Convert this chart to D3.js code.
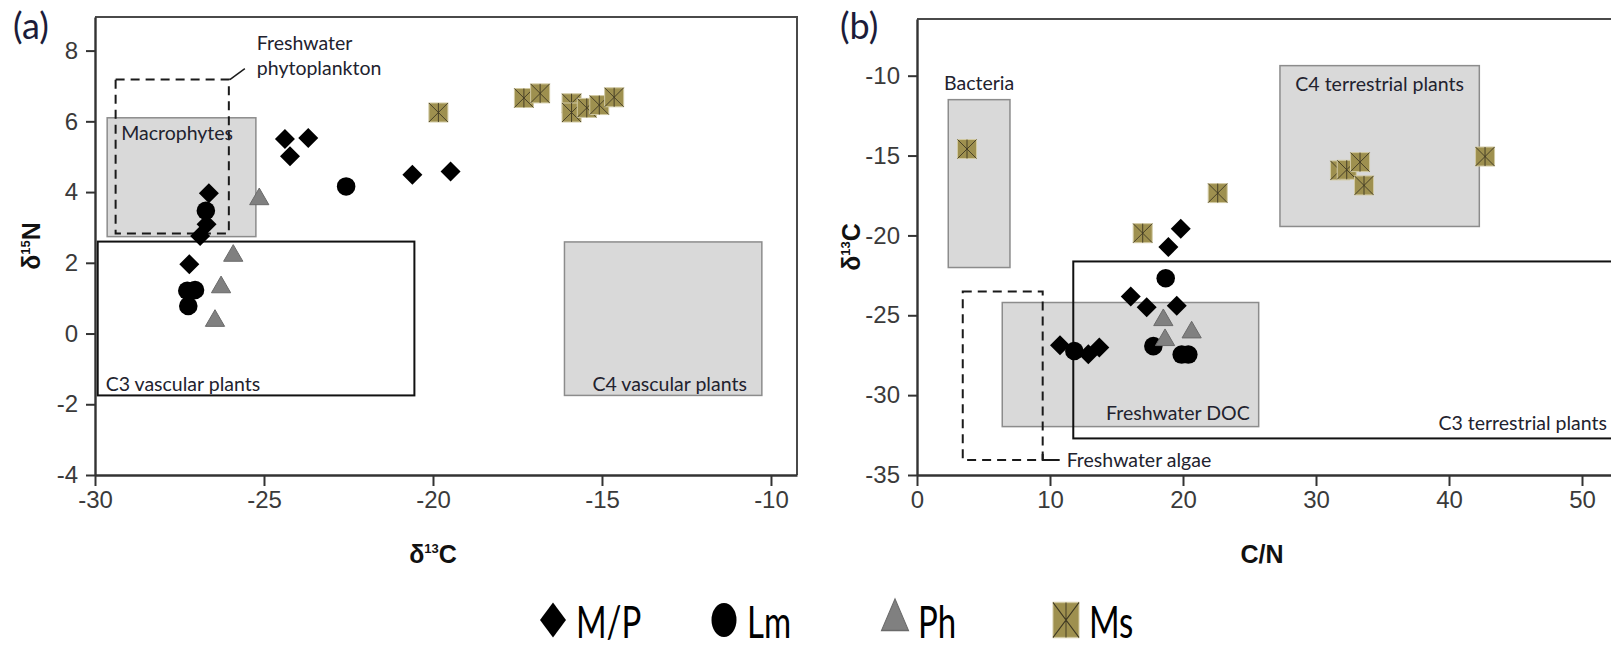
<!DOCTYPE html>
<html>
<head>
<meta charset="utf-8">
<script src="https://cdn.jsdelivr.net/npm/d3@7"></script>
<style>
  body { margin: 0; background: #fff; }
  svg { display: block; }
</style>
</head>
<body>
<svg id="chart" width="1611" height="646"></svg>
<script>
// ---- data, panel (a): d13C (x) vs d15N (y) ----
const mpA = [[-24.38, 5.50], [-23.69, 5.53], [-24.23, 5.01], [-20.61, 4.49], [-19.48, 4.58],
             [-26.63, 3.97], [-26.70, 3.09], [-26.89, 2.76], [-27.21, 1.96]];
const lmA = [[-26.72, 3.47], [-22.57, 4.16], [-27.27, 1.21], [-27.04, 1.23], [-27.24, 0.78]];
const phA = [[-25.14, 3.80], [-25.91, 2.20], [-26.27, 1.31], [-26.45, 0.36]];
const msA = [[-19.84, 6.25], [-17.31, 6.66], [-16.83, 6.79], [-15.90, 6.51], [-15.90, 6.25],
             [-15.45, 6.38], [-15.08, 6.46], [-14.64, 6.68]];

// end-member ranges, panel (a)
const grayBoxesA = [
  { name: "Macrophytes", x: [-29.64, -25.24], y: [2.74, 6.10] },
  { name: "C4 vascular plants", x: [-16.11, -10.27], y: [-1.75, 2.59] },
];
const solidBoxesA = [{ name: "C3 vascular plants", x: [-29.92, -20.55], y: [-1.75, 2.60] }];
const dashedBoxesA = [{ name: "Freshwater|phytoplankton", x: [-29.39, -26.04], y: [2.83, 7.18] }];

// ---- data, panel (b): C/N (x) vs d13C (y) ----
const mpB = [[19.83, -19.59], [18.90, -20.73], [16.07, -23.83], [17.27, -24.49], [19.53, -24.41],
             [10.75, -26.88], [12.88, -27.44], [13.71, -27.02]];
const lmB = [[18.70, -22.68], [11.83, -27.24], [17.77, -26.93], [19.90, -27.46], [20.40, -27.46]];
const phB = [[18.52, -25.30], [18.65, -26.55], [20.65, -26.07]];
const msB = [[3.76, -14.59], [22.61, -17.35], [16.97, -19.86], [31.80, -15.93], [32.31, -15.89],
             [33.31, -15.41], [33.61, -16.87], [42.71, -15.06]];

const grayBoxesB = [
  { name: "Bacteria", x: [2.35, 6.99], y: [-22.01, -11.50] },
  { name: "C4 terrestrial plants", x: [27.29, 42.28], y: [-19.44, -9.37] },
  { name: "Freshwater DOC", x: [6.41, 25.69], y: [-31.97, -24.20] },
];
const solidBoxesB = [{ name: "C3 terrestrial plants", x: [11.75, 53.5], y: [-32.71, -21.63] }];
const dashedBoxesB = [{ name: "Freshwater algae", x: [3.44, 9.45], y: [-34.06, -23.51] }];

const xTicksA = [-30, -25, -20, -15, -10];
const yTicksA = [-4, -2, 0, 2, 4, 6, 8];
const xTicksB = [0, 10, 20, 30, 40, 50];
const yTicksB = [-35, -30, -25, -20, -15, -10];

const legendNames = ["M/P", "Lm", "Ph", "Ms"];

// ---- drawing ----
const svg = d3.select("#chart");
const TEXT = "#22222e";
const LABEL_FONT = "Lato, 'Open Sans', sans-serif";
const TICK_FONT = "'Liberation Sans Narrow', 'Liberation Sans', Arial, sans-serif";

const sym = {
  diamond: d3.symbol(d3.symbolSquare, 200)(),
  circle: d3.symbol(d3.symbolCircle, 270)(),
  triangle: d3.symbol(d3.symbolTriangle, 160)(),
};

function drawMs(sel, s) {
  sel.append("rect")
    .attr("x", -s).attr("y", -s).attr("width", 2 * s).attr("height", 2 * s)
    .attr("fill", "#9e904f").attr("stroke", "#d2caa4").attr("stroke-width", 1);
  sel.append("path")
    .attr("d", `M${-s},${-s}L${s},${s}M${s},${-s}L${-s},${s}M0,${-s}V${s}`)
    .attr("stroke", "#3e3822").attr("stroke-width", 0.9).attr("fill", "none");
}

function axisTitle(g, x, y, parts, rotate) {
  const t = g.append("text")
    .attr("transform", `translate(${x},${y})` + (rotate ? " rotate(-90)" : ""))
    .attr("text-anchor", "middle")
    .attr("font-family", TICK_FONT)
    .attr("font-weight", "bold")
    .attr("font-size", 25)
    .attr("fill", "#111");
  parts.forEach(([s, sup]) => {
    if (sup) t.append("tspan").text(s).attr("font-size", 13).attr("dy", -10);
    else t.append("tspan").text(s).attr("dy", t.selectAll("tspan").size() > 0 ? 10 : 0);
  });
}

function regionLabel(g, x, y, txt, anchor) {
  return g.append("text")
    .attr("x", x).attr("y", y)
    .attr("text-anchor", anchor)
    .attr("dominant-baseline", "central")
    .attr("font-family", LABEL_FONT)
    .attr("font-size", 19.5)
    .attr("fill", TEXT)
    .text(txt);
}

function panel(cfg) {
  const { x, y, xTicks, yTicks, right } = cfg;
  const g = svg.append("g");
  const [x0] = x.range();
  const [yb, yt] = y.range();

  // frame (top / right)
  g.append("path")
    .attr("d", `M${x0},${yt}H${right}V${yb}`)
    .attr("fill", "none").attr("stroke", "#4a4a4a").attr("stroke-width", 2);

  const regions = g.append("g");
  cfg.gray.forEach(b => {
    regions.append("rect")
      .attr("x", x(b.x[0])).attr("y", y(b.y[1]))
      .attr("width", x(b.x[1]) - x(b.x[0])).attr("height", y(b.y[0]) - y(b.y[1]))
      .attr("fill", "#d9d9d9").attr("stroke", "#8c8c8c").attr("stroke-width", 1.5);
  });
  cfg.dashed.forEach(b => {
    regions.append("rect")
      .attr("x", x(b.x[0])).attr("y", y(b.y[1]))
      .attr("width", x(b.x[1]) - x(b.x[0])).attr("height", y(b.y[0]) - y(b.y[1]))
      .attr("fill", "none").attr("stroke", "#1a1a1a").attr("stroke-width", 2)
      .attr("stroke-dasharray", "9,6");
  });
  cfg.solid.forEach(b => {
    regions.append("rect")
      .attr("x", x(b.x[0])).attr("y", y(b.y[1]))
      .attr("width", x(b.x[1]) - x(b.x[0])).attr("height", y(b.y[0]) - y(b.y[1]))
      .attr("fill", "none").attr("stroke", "#111").attr("stroke-width", 2);
  });

  // axes
  const fmt = d => String(d);
  const ax = g.append("g").attr("transform", `translate(0,${yb})`)
    .call(d3.axisBottom(x).tickValues(xTicks).tickFormat(fmt).tickSize(11).tickSizeOuter(0).tickPadding(5));
  const ay = g.append("g").attr("transform", `translate(${x0},0)`)
    .call(d3.axisLeft(y).tickValues(yTicks).tickFormat(fmt).tickSize(9).tickSizeOuter(0).tickPadding(8));
  [ax, ay].forEach(a => {
    a.select(".domain").attr("stroke", "#333").attr("stroke-width", 2.4);
    a.selectAll(".tick line").attr("stroke", "#333").attr("stroke-width", 2);
    a.selectAll(".tick text").attr("font-family", TICK_FONT).attr("font-size", 24).attr("fill", "#3a3a3a");
  });

  // points
  const pts = g.append("g");
  pts.selectAll(".mp").data(cfg.mp).join("path").attr("class", "mp")
    .attr("d", sym.diamond).attr("fill", "#000")
    .attr("transform", d => `translate(${x(d[0])},${y(d[1])}) rotate(45)`);
  pts.selectAll(".lm").data(cfg.lm).join("path").attr("class", "lm")
    .attr("d", sym.circle).attr("fill", "#000")
    .attr("transform", d => `translate(${x(d[0])},${y(d[1])})`);
  pts.selectAll(".ph").data(cfg.ph).join("path").attr("class", "ph")
    .attr("d", sym.triangle).attr("fill", "#808080").attr("stroke", "#6a6a6a").attr("stroke-width", 1)
    .attr("transform", d => `translate(${x(d[0])},${y(d[1])})`);
  pts.selectAll(".ms").data(cfg.ms).join("g").attr("class", "ms")
    .attr("transform", d => `translate(${x(d[0])},${y(d[1])})`)
    .each(function () { drawMs(d3.select(this), 9.5); });

  return g;
}

// panel (a)
const xA = d3.scaleLinear().domain([-30, -9.23]).range([95, 797]);
const yA = d3.scaleLinear().domain([-4, 8.95]).range([475, 17]);
const gA = panel({ x: xA, y: yA, xTicks: xTicksA, yTicks: yTicksA, right: 797,
  gray: grayBoxesA, dashed: dashedBoxesA, solid: solidBoxesA,
  mp: mpA, lm: lmA, ph: phA, ms: msA });

// panel (b)
const xB = d3.scaleLinear().domain([0, 53.5]).range([917, 917 + 53.5 * 13.3]);
const yB = d3.scaleLinear().domain([-35, -6.45]).range([475, 19]);
const gB = panel({ x: xB, y: yB, xTicks: xTicksB, yTicks: yTicksB, right: 1640,
  gray: grayBoxesB, dashed: dashedBoxesB, solid: solidBoxesB,
  mp: mpB, lm: lmB, ph: phB, ms: msB });

// region labels, panel (a)
{
  const m = grayBoxesA[0], c4 = grayBoxesA[1], c3 = solidBoxesA[0], fp = dashedBoxesA[0];
  regionLabel(gA, xA(m.x[0]) + 14, yA(m.y[1]) + 15, "Macrophytes", "start");
  regionLabel(gA, xA(c3.x[0]) + 8, yA(c3.y[0]) - 12, "C3 vascular plants", "start");
  regionLabel(gA, xA(c4.x[1]) - 15, yA(c4.y[0]) - 12, "C4 vascular plants", "end");
  const cx = xA(fp.x[1]), cy = yA(fp.y[1]);
  gA.append("path").attr("d", `M${cx + 1},${cy}L${cx + 16},${cy - 11}`)
    .attr("stroke", "#1a1a1a").attr("stroke-width", 1.5);
  fp.name.split("|").forEach((s, i) => regionLabel(gA, cx + 28, cy - 37 + i * 25, s, "start"));
}
// region labels, panel (b)
{
  const [bac, c4, doc] = grayBoxesB, c3 = solidBoxesB[0], alg = dashedBoxesB[0];
  regionLabel(gB, (xB(bac.x[0]) + xB(bac.x[1])) / 2, yB(bac.y[1]) - 17, bac.name, "middle");
  regionLabel(gB, (xB(c4.x[0]) + xB(c4.x[1])) / 2, yB(c4.y[1]) + 18, c4.name, "middle");
  regionLabel(gB, xB(doc.x[1]) - 9, yB(doc.y[0]) - 14, doc.name, "end");
  regionLabel(gB, 1607, yB(c3.y[0]) - 16, c3.name, "end");
  const ax1 = xB(alg.x[1]), ay0 = yB(alg.y[0]);
  gB.append("path").attr("d", `M${ax1},${ay0 - 6}V${ay0}H${ax1 + 17}`)
    .attr("fill", "none").attr("stroke", "#1a1a1a").attr("stroke-width", 2);
  regionLabel(gB, ax1 + 24, ay0, alg.name, "start");
}

// axis titles
axisTitle(svg, 30, (yA.range()[0] + yA.range()[1]) / 2, [["δ"], ["15", true], ["N"]], true);
axisTitle(svg, (xA(-30) + xA(-10)) / 2, 553, [["δ"], ["13", true], ["C"]], false);
axisTitle(svg, 850, (yB.range()[0] + yB.range()[1]) / 2, [["δ"], ["13", true], ["C"]], true);
axisTitle(svg, 1262, 553, [["C/N"]], false);

// panel letters
[["(a)", 13], ["(b)", 840]].forEach(([s, px]) => {
  svg.append("text").attr("x", px).attr("y", 39)
    .attr("font-family", LABEL_FONT).attr("font-size", 36).attr("fill", "#1c1c3a").text(s);
});

// legend (stretched vertically like the original)
const lg = svg.append("g").attr("transform", "translate(0,620) scale(1,1.35)");
const legendX = d3.scaleLinear().domain([0, 1]).range([553, 724]);
legendNames.forEach((name, i) => {
  const cx = legendX(i);
  const item = lg.append("g").attr("transform", `translate(${cx},0)`);
  if (name === "M/P") item.append("path").attr("d", d3.symbol(d3.symbolSquare, 338)()).attr("transform", "rotate(45)").attr("fill", "#000");
  if (name === "Lm") item.append("path").attr("d", d3.symbol(d3.symbolCircle, 491)()).attr("fill", "#000");
  if (name === "Ph") item.append("path").attr("d", d3.symbol(d3.symbolTriangle, 316)()).attr("fill", "#808080").attr("stroke", "#6a6a6a");
  if (name === "Ms") drawMs(item, 13);
  item.append("text").attr("x", 23).attr("y", 0)
    .attr("dominant-baseline", "central")
    .attr("font-family", LABEL_FONT).attr("font-size", 33).attr("fill", "#000")
    .text(name);
});
</script>
</body>
</html>
